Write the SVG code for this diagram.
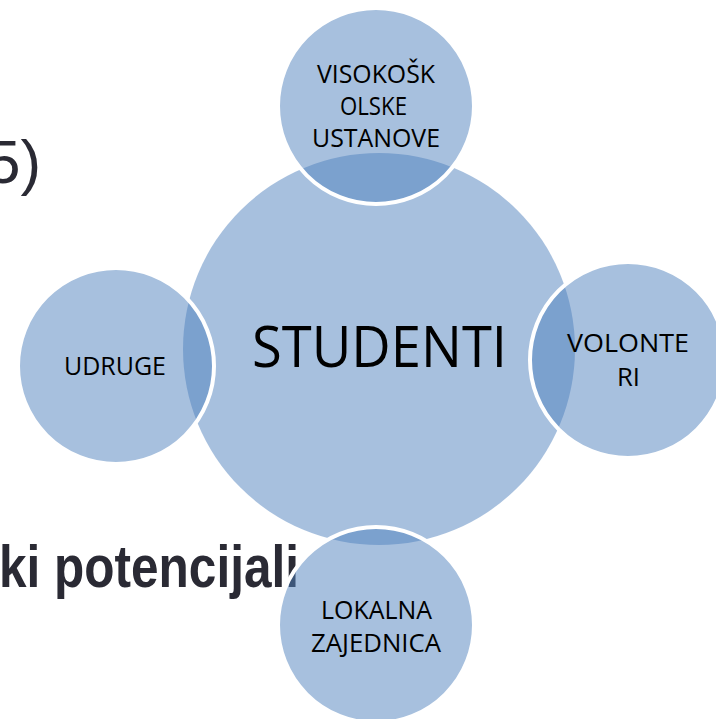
<svg xmlns="http://www.w3.org/2000/svg" width="716" height="719" viewBox="0 0 716 719">
<style>
.bg{font-family:"Liberation Sans",Arial,sans-serif;fill:#2a2a34}
.hub{fill:#4F81BD;fill-opacity:0.5}
.sat{fill:#4F81BD;fill-opacity:0.5;stroke:#ffffff;stroke-width:4}
.lbl{font-family:"Open Sans","Liberation Sans",sans-serif;font-size:25px;fill:#000000}
.big{font-family:"Open Sans","Liberation Sans",sans-serif;font-size:56px;fill:#000000}
</style>
<rect width="716" height="719" fill="#ffffff"/>
<g id="background-text">
<text class="bg" x="-14" y="183" font-size="62">5)</text>
<text class="bg" x="-1" y="587" font-size="60" font-weight="bold" textLength="300" lengthAdjust="spacingAndGlyphs">ki potencijali</text>
</g>
<g id="connectors"/>
<g id="studenti">
<circle class="hub" cx="379" cy="349" r="196"/>
<text class="big" x="252" y="367" textLength="255" lengthAdjust="spacingAndGlyphs">STUDENTI</text>
</g>
<g id="visokoskolske-ustanove">
<circle class="sat" cx="376" cy="106" r="98"/>
<text class="lbl" x="317" y="83" textLength="118" lengthAdjust="spacingAndGlyphs">VISOKOŠK</text>
<text class="lbl" x="340" y="115" textLength="67" lengthAdjust="spacingAndGlyphs">OLSKE</text>
<text class="lbl" x="312" y="147" textLength="128" lengthAdjust="spacingAndGlyphs">USTANOVE</text>
</g>
<g id="volonteri">
<circle class="sat" cx="628" cy="360" r="98"/>
<text class="lbl" x="567" y="352" textLength="122" lengthAdjust="spacingAndGlyphs">VOLONTE</text>
<text class="lbl" x="617" y="386" textLength="23" lengthAdjust="spacingAndGlyphs">RI</text>
</g>
<g id="udruge">
<circle class="sat" cx="116" cy="366" r="98"/>
<text class="lbl" x="64" y="375" textLength="102" lengthAdjust="spacingAndGlyphs">UDRUGE</text>
</g>
<g id="lokalna-zajednica">
<circle class="sat" cx="376" cy="625" r="98"/>
<text class="lbl" x="321" y="619" textLength="111" lengthAdjust="spacingAndGlyphs">LOKALNA</text>
<text class="lbl" x="311" y="652" textLength="130" lengthAdjust="spacingAndGlyphs">ZAJEDNICA</text>
</g>
</svg>
